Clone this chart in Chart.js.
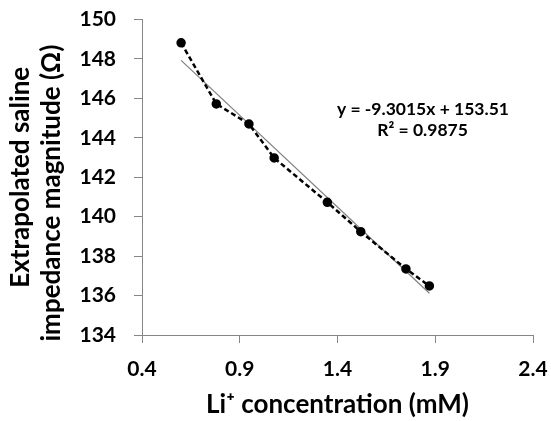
<!DOCTYPE html>
<html>
<head>
<meta charset="utf-8">
<script src="https://cdn.jsdelivr.net/npm/chart.js@4/dist/chart.umd.min.js"></script>
<style>
html,body{margin:0;padding:0;background:#fff;}
#wrap{width:551px;height:421px;position:relative;}
</style>
</head>
<body>
<div id="wrap"><canvas id="c" width="551" height="421"></canvas></div>
<script>
// Data
const concentration = [0.60, 0.78, 0.947, 1.076, 1.348, 1.519, 1.75, 1.87];
const impedance = [148.82, 145.72, 144.70, 142.98, 140.73, 139.24, 137.35, 136.49];
// Trendline coefficients as printed on the chart
const trendSlope = -9.3015;
const trendIntercept = 153.51;
const xTicks = [0.4, 0.9, 1.4, 1.9, 2.4];
const yTicks = [134, 136, 138, 140, 142, 144, 146, 148, 150];
const eqLabel = ["y = -9.3015x + 153.51", "R\u00b2 = 0.9875"];
const xTitle = "Li\u207a concentration (mM)";
const yTitle = ["Extrapolated saline", "impedance magnitude (\u03a9)     "];

const xFirst = concentration[0], xLast = concentration[concentration.length - 1];
const trendPoints = [
  {x: xFirst, y: trendSlope * xFirst + trendIntercept},
  {x: xLast, y: trendSlope * xLast + trendIntercept}
];

const FONT = "Lato";
const axisGray = "#868686";

const eqPlugin = {
  id: 'eq',
  afterDraw(chart) {
    const ctx = chart.ctx;
    const xs = chart.scales.x, ys = chart.scales.y;
    ctx.save();
    ctx.font = "bold 17.5px " + FONT;
    ctx.fillStyle = "#000";
    ctx.textAlign = "center";
    ctx.textBaseline = "middle";
    ctx.fillText(eqLabel[0], xs.getPixelForValue(1.837), ys.getPixelForValue(145.46));
    ctx.fillText(eqLabel[1], xs.getPixelForValue(1.835), ys.getPixelForValue(144.40));
    ctx.restore();
  }
};

new Chart(document.getElementById('c'), {
  type: 'scatter',
  data: {
    datasets: [
      {
        data: concentration.map((x, i) => ({x, y: impedance[i]})),
        showLine: true,
        borderColor: '#000',
        borderWidth: 2.5,
        borderDash: [5, 3],
        pointBackgroundColor: '#000',
        pointBorderColor: '#000',
        pointRadius: 3.5,
        pointStyle: 'circle',
        order: 1
      },
      {
        data: trendPoints,
        showLine: true,
        borderColor: '#808080',
        borderWidth: 1.2,
        pointRadius: 0,
        order: 2
      }
    ]
  },
  options: {
    responsive: false,
    animation: false,
    devicePixelRatio: 1,
    layout: {padding: {top: 19.5, right: 18, left: 0, bottom: 0}},
    plugins: {legend: {display: false}, tooltip: {enabled: false}},
    scales: {
      x: {
        type: 'linear',
        min: xTicks[0], max: xTicks[xTicks.length - 1],
        afterBuildTicks(s) { s.ticks = xTicks.map(v => ({value: v})); },
        afterFit(s) { s.height = 86; s.paddingLeft = 0; s.paddingRight = 0; },
        border: {color: axisGray, width: 1},
        grid: {drawOnChartArea: false, tickLength: 8, color: axisGray},
        ticks: {
          color: '#000', padding: 14, maxRotation: 0,
          font: {family: FONT, size: 21, weight: 'bold'},
          callback: v => Number(v).toFixed(1)
        },
        title: {
          display: true, text: xTitle, color: '#000',
          font: {family: FONT, size: 26, weight: 'bold'},
          padding: {top: 0, bottom: 1}
        }
      },
      y: {
        type: 'linear',
        min: yTicks[0], max: yTicks[yTicks.length - 1],
        afterBuildTicks(s) { s.ticks = yTicks.map(v => ({value: v})); },
        afterFit(s) { s.width = 142; s.paddingTop = 0; s.paddingBottom = 0; },
        border: {color: axisGray, width: 1},
        grid: {drawOnChartArea: false, tickLength: 8, color: axisGray},
        ticks: {
          color: '#000', padding: 18,
          font: {family: FONT, size: 21, weight: 'bold'}
        },
        title: {
          display: true, text: yTitle, color: '#000',
          font: {family: FONT, size: 26, weight: 'bold', lineHeight: 1.2},
          padding: {top: 5, bottom: 0}
        }
      }
    }
  },
  plugins: [eqPlugin]
});
</script>
</body>
</html>
